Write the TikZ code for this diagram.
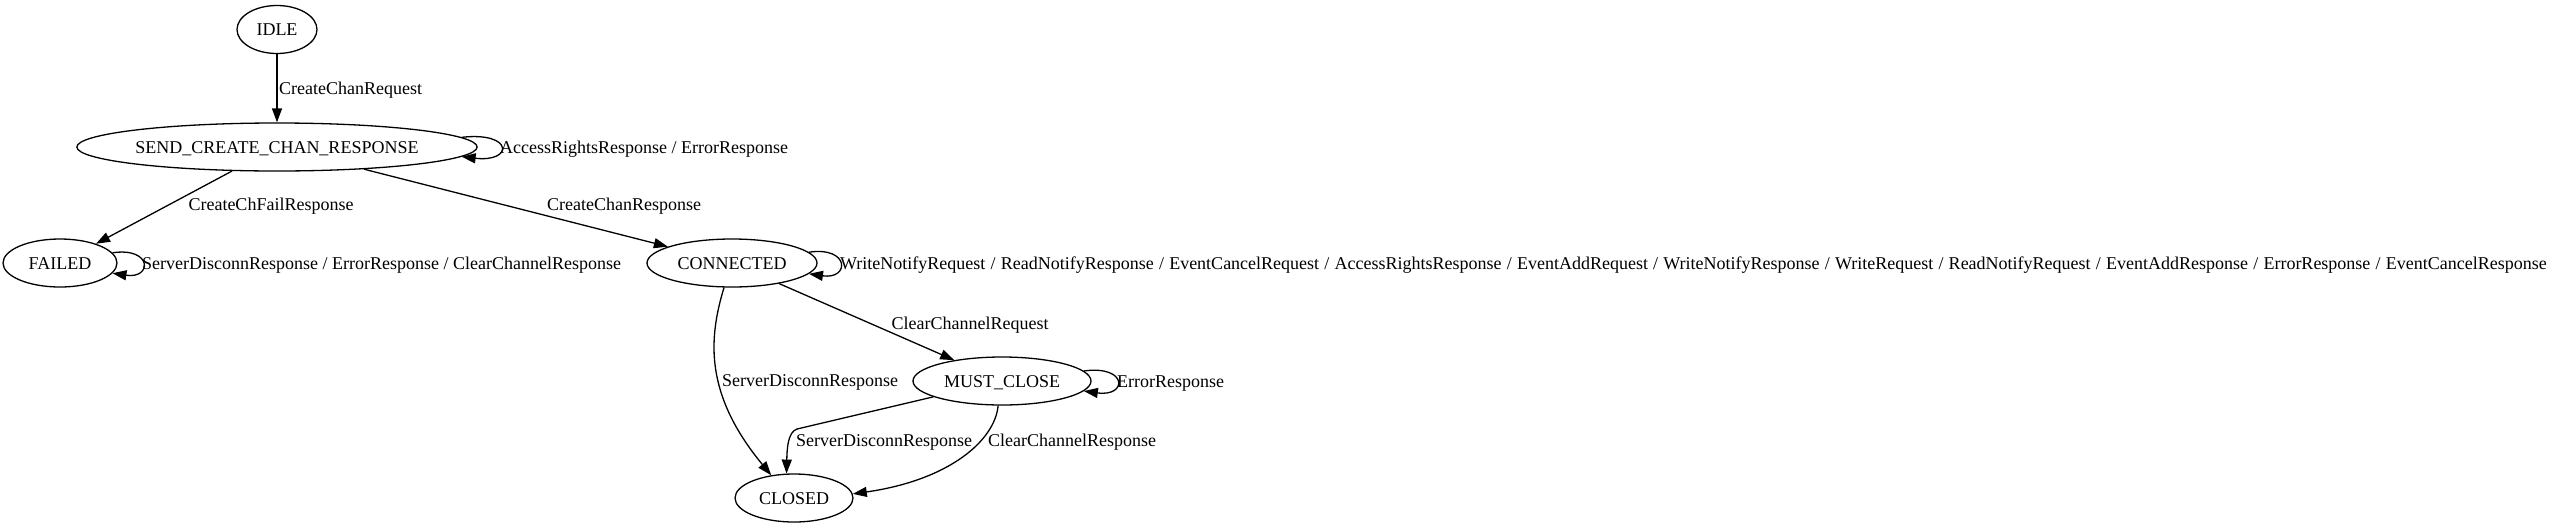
\documentclass[tikz,border=0pt]{standalone}
\usepackage{fontspec}
\setmainfont{Liberation Serif}
\usetikzlibrary{arrows.meta,shapes.geometric}
\newcommand\diagfont{\fontsize{18}{20}\selectfont}
\begin{document}
\begin{tikzpicture}[x=1pt,y=-1pt,
  state/.style={draw, ellipse, line width=1.3pt, minimum height=48pt, inner sep=0pt,
    font=\diagfont, text height=12pt, text depth=0pt},
  tr/.style={line width=1.3pt, -{Triangle[length=14pt,width=10pt]}},
  lbl/.style={font=\diagfont, inner sep=0pt, text height=12pt, text depth=0pt}]
\fill[white] (0,0) rectangle (2555,528);
% states
\node[state, minimum width=80pt]  (IDLE)   at (277,29.5) {IDLE};
\node[state, minimum width=398pt] (SEND)   at (277,147)  {SEND\_CREATE\_CHAN\_RESPONSE};
\node[state, minimum width=114pt] (FAILED) at (60,263)   {FAILED};
\node[state, minimum width=170pt] (CONN)   at (732,263)  {CONNECTED};
\node[state, minimum width=178pt] (MUST)   at (1002,381) {MUST\_CLOSE};
\node[state, minimum width=118pt] (CLOSED) at (794,498)  {CLOSED};
% transitions
\draw[tr] (IDLE) -- (SEND);
\draw[tr] (SEND) -- (FAILED);
\draw[tr] (SEND) -- (CONN);
\draw[tr] (CONN) -- (MUST);
\draw[tr] (CONN.-108) .. controls (708,340) and (705,395) .. (CLOSED.135);
\draw[tr] (MUST.193) -- (797,429) .. controls (788,432) and (787,448) .. (CLOSED.107);
\draw[tr] (MUST.-99) .. controls (995,440) and (950,480) .. (CLOSED.4);
% self loops
\draw[tr] (SEND.3) .. controls +(52,-6) and +(52,6) .. (SEND.-3);
\draw[tr] (FAILED.11) .. controls +(40,-6) and +(40,6) .. (FAILED.-11);
\draw[tr] (CONN.8) .. controls +(41,-6) and +(41,6) .. (CONN.-8);
\draw[tr] (MUST.7.5) .. controls +(44,-6) and +(44,6) .. (MUST.-7.5);
% labels
\node[lbl, anchor=west] (l1) at (279,88) {CreateChanRequest};
\node[lbl] (l2) at (271,204) {CreateChFailResponse};
\node[lbl] (l3) at (624,204) {CreateChanResponse};
\node[lbl, anchor=west] (l4) at (500,147) {AccessRightsResponse / ErrorResponse};
\node[lbl, anchor=west] (l5) at (142,263) {ServerDisconnResponse / ErrorResponse / ClearChannelResponse};
\node[lbl, anchor=west] (l6) at (840,263) {\spaceskip=5.2pt WriteNotifyRequest / ReadNotifyResponse / EventCancelRequest / AccessRightsResponse / EventAddRequest / WriteNotifyResponse / WriteRequest / ReadNotifyRequest / EventAddResponse / ErrorResponse / EventCancelResponse};
\node[lbl] (l7) at (970,323) {ClearChannelRequest};
\node[lbl, anchor=west] (l8) at (1117,381) {ErrorResponse};
\node[lbl] (l9) at (810,380) {ServerDisconnResponse};
\node[lbl] (l10) at (884,440) {ServerDisconnResponse};
\node[lbl] (l11) at (1072,440) {ClearChannelResponse};
\end{tikzpicture}
\end{document}
